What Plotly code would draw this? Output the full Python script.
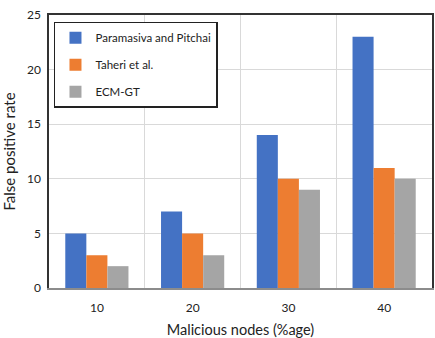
import plotly.graph_objects as go

categories = ["10", "20", "30", "40"]
paramasiva = [5, 7, 14, 23]
taheri = [3, 5, 10, 11]
ecm_gt = [2, 3, 9, 10]
series_names = ["Paramasiva and Pitchai", "Taheri et al.", "ECM-GT"]
colors = ["#4472C4", "#ED7D31", "#A5A5A5"]

fig = go.Figure()
for i, (name, vals) in enumerate(zip(series_names, [paramasiva, taheri, ecm_gt])):
    fig.add_trace(go.Bar(x=categories, y=vals, name=name, marker_color=colors[i],
                         marker_line_width=0, legendgroup=f"g{i}"))

font = "Lato, Open Sans, sans-serif"
fig.update_layout(
    width=435, height=338,
    margin=dict(l=49, r=3, t=15, b=50),
    paper_bgcolor="white", plot_bgcolor="white",
    barmode="group", bargap=0.34, bargroupgap=0,
    font=dict(family=font, size=12, color="#222"),
    showlegend=True,
    legend=dict(x=0.013, y=0.975, xanchor="left", yanchor="top",
                bordercolor="#222", borderwidth=1.5, bgcolor="white",
                font=dict(size=11.5, color="#222"), tracegroupgap=8,
                itemwidth=30),
    xaxis=dict(type="category", tickson="boundaries", showgrid=True,
               gridcolor="#D9D9D9", gridwidth=1, ticks="", showline=True,
               linecolor="#8c8c8c", linewidth=2, ticklabelstandoff=8,
               automargin=False,
               title=dict(text="Malicious nodes (%age)", font=dict(size=14.5), standoff=14)),
    yaxis=dict(range=[0, 25], dtick=5, showgrid=True, gridcolor="#D9D9D9",
               showline=True, linecolor="#333", linewidth=1.5, mirror=True,
               ticks="", zeroline=False, ticklabelstandoff=4, automargin=False,
               title=dict(text="False positive rate", font=dict(size=15), standoff=8)),
    xaxis2=dict(overlaying="x", side="top", showline=True, linecolor="#333",
                linewidth=1.5, showticklabels=False, showgrid=False, ticks="",
                range=[0, 1], fixedrange=True),
)
fig.add_trace(go.Scatter(x=[None], y=[None], xaxis="x2", showlegend=False, hoverinfo="skip"))
fig.write_html("out.html")
